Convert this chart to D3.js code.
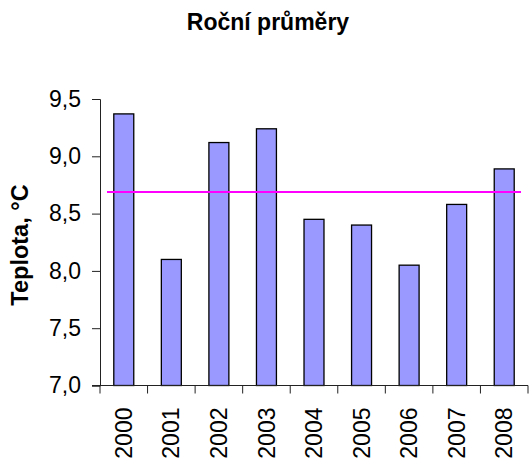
<!DOCTYPE html>
<html>
<head>
<meta charset="utf-8">
<script src="https://cdn.jsdelivr.net/npm/d3@7"></script>
<style>
  body { margin: 0; background: #fff; }
  svg { display: block; font-family: "Liberation Sans", Arial, sans-serif; }
</style>
</head>
<body>
<svg id="chart" width="529" height="464"></svg>
<script>
const years = ['2000', '2001', '2002', '2003', '2004', '2005', '2006', '2007', '2008']
const temps = [9.37, 8.10, 9.12, 9.24, 8.45, 8.40, 8.05, 8.58, 8.89]
const yTicks = [7.0, 7.5, 8.0, 8.5, 9.0, 9.5]
const title = 'Roční průměry'
const yTitle = 'Teplota, °C'

const width = 529, height = 464
const margin = { top: 99, right: 1, bottom: 78.5, left: 100 }

const svg = d3.select('#chart')
const fmt = d3.formatLocale({ decimal: ',', thousands: ' ', grouping: [3], currency: ['', ''] }).format('.1f')

const x = d3.scaleBand()
  .domain(years)
  .range([margin.left, width - margin.right])
  .padding(0)

const y = d3.scaleLinear()
  .domain([7, 9.5])
  .range([height - margin.bottom, margin.top])

const barW = x.bandwidth() * 0.42

// bars
svg.append('g').selectAll('rect')
  .data(years.map((yr, i) => ({ yr, v: temps[i] })))
  .join('rect')
  .attr('x', d => x(d.yr) + (x.bandwidth() - barW) / 2)
  .attr('y', d => y(d.v))
  .attr('width', barW)
  .attr('height', d => y(7) - y(d.v))
  .attr('fill', '#9999ff')
  .attr('stroke', '#000')
  .attr('stroke-width', 1.3)

// mean line
const mean = d3.mean(temps)
svg.append('line')
  .attr('x1', x.range()[0] + 7)
  .attr('x2', x.range()[1] - 7)
  .attr('y1', y(mean))
  .attr('y2', y(mean))
  .attr('stroke', '#ff00ff')
  .attr('stroke-width', 2)

// y axis
const yAxis = svg.append('g')
  .attr('transform', `translate(${margin.left},0)`)
  .call(d3.axisLeft(y).tickValues(yTicks).tickFormat(fmt).tickSize(8).tickPadding(11))
yAxis.select('.domain').attr('stroke', '#222')
yAxis.selectAll('.tick line').attr('stroke', '#222')
yAxis.selectAll('.tick text')
  .attr('font-size', 23)
  .attr('fill', '#000')
  .attr('font-family', '"Liberation Sans", Arial, sans-serif')

// x axis baseline + ticks at category boundaries
const xg = svg.append('g')
xg.append('line')
  .attr('x1', x.range()[0] - 8)
  .attr('x2', x.range()[1])
  .attr('y1', y(7))
  .attr('y2', y(7))
  .attr('stroke', '#222')
xg.selectAll('.xt')
  .data(years.map(yr => x(yr)).concat([x.range()[1]]))
  .join('line')
  .attr('class', 'xt')
  .attr('x1', d => d)
  .attr('x2', d => d)
  .attr('y1', y(7))
  .attr('y2', y(7) + 8)
  .attr('stroke', '#222')

xg.selectAll('text')
  .data(years)
  .join('text')
  .attr('transform', d => `translate(${x(d) + x.bandwidth() / 2},${y(7) + 22}) rotate(-90)`)
  .attr('text-anchor', 'end')
  .attr('dy', '0.35em')
  .attr('font-size', 23)
  .text(d => d)

// titles
svg.append('text')
  .attr('x', 268)
  .attr('y', 30)
  .attr('text-anchor', 'middle')
  .attr('font-size', 23)
  .attr('font-weight', 'bold')
  .text(title)

svg.append('text')
  .attr('transform', 'translate(28,245) rotate(-90)')
  .attr('text-anchor', 'middle')
  .attr('font-size', 23.5)
  .attr('font-weight', 'bold')
  .text(yTitle)
</script>
</body>
</html>
